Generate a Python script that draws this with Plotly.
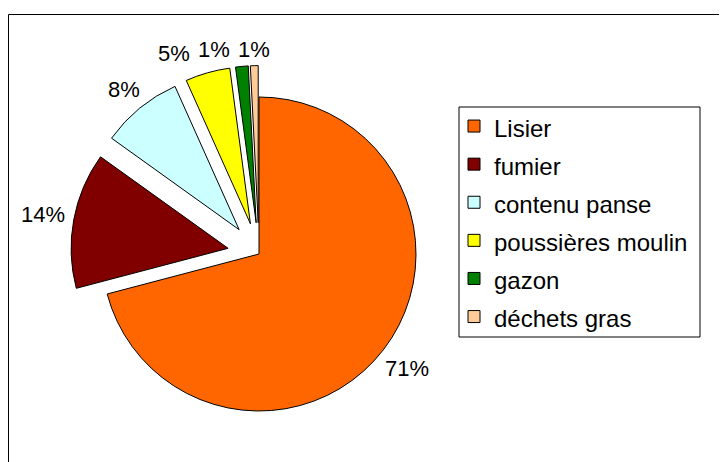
import math
import plotly.graph_objects as go

labels = ["Lisier", "fumier", "contenu panse", "poussières moulin", "gazon", "déchets gras"]
values = [70.9, 14.0, 8.4, 4.6, 1.3, 0.8]
colors = ["#FF6600", "#800000", "#CCFFFF", "#FFFF00", "#008000", "#FFCC99"]
pulls = [0, 0.2, 0.2, 0.2, 0.2, 0.2]

W, H = 727, 462
OFF = 8  # the page body margin shifts the figure by 8px
FONT = "Liberation Sans, Arial, sans-serif"
LABEL_SIZE = 22


def px(x):
    return (x - OFF) / W


def py(y):
    return 1 - (y - OFF) / H


# pie centre and radius in screen px
cx, cy, r = 259, 254, 157
half = r * (1 + max(pulls))

fig = go.Figure(go.Pie(
    labels=[f'<span style="font-size:24px">{l}</span>' for l in labels],
    values=values,
    sort=False,
    direction="clockwise",
    rotation=0,
    pull=pulls,
    marker=dict(colors=colors, line=dict(color="black", width=1)),
    textinfo="none",
    hoverinfo="label+percent",
    domain=dict(x=[px(cx - half), px(cx + half)],
                y=[py(cy + half), py(cy - half)]),
))

# percentage labels outside each slice (Excel-like placement)
total = sum(values)
cum = 0
lab = []
for v, p in zip(values, pulls):
    mid = (cum + v / 2) / total
    cum += v
    a = 2 * math.pi * mid
    dx, dy = math.sin(a), -math.cos(a)
    sx, sy = cx + p * r * dx, cy + p * r * dy
    txt = f"{round(100 * v / total)}%"
    w = LABEL_SIZE * sum(0.889 if ch == "%" else 0.556 for ch in txt)
    h = 16
    D = 165 + abs(dx) * w / 2 + abs(dy) * h / 2
    lab.append([sx + D * dx, sy + D * dy, w, txt])

# spread the crowded labels near the top so they don't collide
gap = 8
for i in range(len(lab) - 2, 0, -1):
    x, y, w, t = lab[i]
    nx, ny, nw, _ = lab[i + 1]
    if abs(y - ny) < LABEL_SIZE and x + w / 2 + gap > nx - nw / 2:
        lab[i][0] = nx - nw / 2 - gap - w / 2

annotations = [
    dict(x=px(x), y=py(y), xref="paper", yref="paper", text=t,
         showarrow=False, xanchor="center", yanchor="middle",
         font=dict(size=LABEL_SIZE, color="black", family=FONT))
    for x, y, w, t in lab
]

fig.update_layout(
    width=W, height=H,
    margin=dict(l=0, r=0, t=0, b=0, autoexpand=False),
    paper_bgcolor="white",
    font=dict(family=FONT, color="black"),
    legend=dict(
        x=px(454), y=py(102), xanchor="left", yanchor="top",
        font=dict(size=27, family=FONT, color="black"),
        bgcolor="rgba(0,0,0,0)", borderwidth=0,
    ),
    annotations=annotations,
    shapes=[
        # outer chart frame (runs off the right and bottom edges)
        dict(type="rect", xref="paper", yref="paper",
             x0=px(8.5), y0=-0.05, x1=1.05, y1=py(14.5),
             line=dict(color="black", width=1)),
        # legend box
        dict(type="rect", xref="paper", yref="paper",
             x0=px(459), y0=py(337), x1=px(700), y1=py(107),
             line=dict(color="black", width=1)),
    ],
)

fig.write_html("out.html")
